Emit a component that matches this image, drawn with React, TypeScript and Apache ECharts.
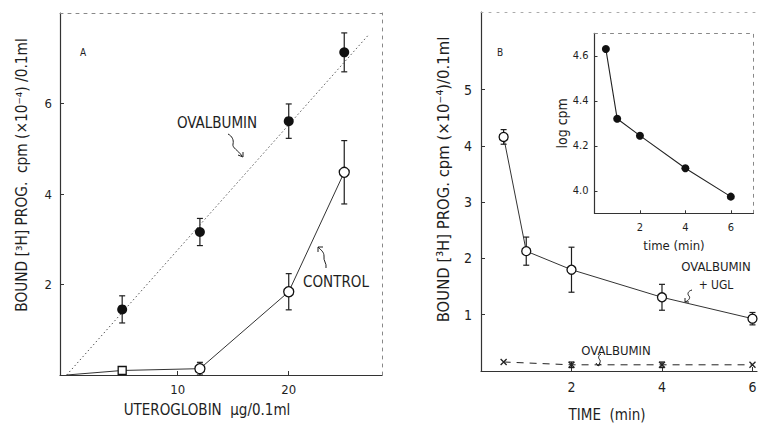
import React, { useEffect, useRef } from "react";
import * as echarts from "echarts";

// ---------- Panel A data ----------
const doseA = [5, 12, 20, 25];
const ovalA = [1.45, 3.16, 5.61, 7.13];
const ovalAErr = [0.3, 0.3, 0.38, 0.43];
const ovalFitX = [0, 27.2];
const ovalFitY = [0, 7.52];
const controlX = [0, 5, 12, 20, 25];
const controlY = [0, 0.1, 0.14, 1.84, 4.48];
const controlErr = [0, 0, 0.14, 0.4, 0.7];
const ticksAX = [10, 20];
const ticksAY = [2, 4, 6];

// ---------- Panel B data ----------
const timeB = [0.5, 1, 2, 4, 6];
const uglB = [4.16, 2.13, 1.8, 1.31, 0.93];
const uglBErr = [0.13, 0.25, 0.4, 0.23, 0.11];
const ovalTimeB = [0.5, 2, 4, 6];
const ovalB = [0.16, 0.11, 0.11, 0.11];
const ovalBErr = [0, 0.05, 0.05, 0];
const ticksBX = [2, 4, 6];
const ticksBY = [1, 2, 3, 4, 5];

// ---------- Inset data ----------
const insetTime = [0.5, 1, 2, 4, 6];
const insetLog = [4.63, 4.32, 4.245, 4.1, 3.974];
const ticksInsetX = [2, 4, 6];
const ticksInsetY = [4.0, 4.2, 4.4, 4.6];

const FONT = "'DejaVu Sans Condensed', 'Liberation Sans Narrow', 'DejaVu Sans', sans-serif";
const INK = "#1e1e1e";

echarts.graphic.registerShape(
  "arrowOvalA",
  echarts.graphic.extendPath("M0,0 C4,2 6,6 5,10 C4,14 10,16 14,22 M10,21 L15,23 L15,18", {})
);
echarts.graphic.registerShape(
  "arrowControl",
  echarts.graphic.extendPath("M8,21 C9,16 5,14 6,9 C6,5 3,3 0,0 M0,0 L5,0 M0,0 L0,5", {})
);
echarts.graphic.registerShape(
  "arrowUgl",
  echarts.graphic.extendPath("M8,0 C4,1 3,4 5,6 C7,8 4,11 1,12 M1,12 L1,8 M1,12 L5,12", {})
);
echarts.graphic.registerShape(
  "arrowOvalB",
  echarts.graphic.extendPath("M5,0 C2,2 2,4 4,6 C5,8 3,10 2,12 M2,12 L0,9 M2,12 L5,10", {})
);

function errData(xs: number[], ys: number[], es: number[]) {
  const out: number[][] = [];
  xs.forEach((x, i) => {
    if (es[i] > 0) out.push([x, ys[i] - es[i], ys[i] + es[i]]);
  });
  return out;
}

function errSeries(xi: number, yi: number, data: number[][], cap = 3) {
  return {
    type: "custom",
    xAxisIndex: xi,
    yAxisIndex: yi,
    z: 1,
    data,
    renderItem: (_p: any, api: any) => {
      const x = api.value(0);
      const lo = api.value(1);
      const hi = api.value(2);
      const a = api.coord([x, hi]);
      const b = api.coord([x, lo]);
      const st = { stroke: INK, lineWidth: 1.2 };
      return {
        type: "group",
        children: [
          { type: "line", shape: { x1: a[0], y1: a[1], x2: b[0], y2: b[1] }, style: st },
          { type: "line", shape: { x1: a[0] - cap, y1: a[1], x2: a[0] + cap, y2: a[1] }, style: st },
          { type: "line", shape: { x1: b[0] - cap, y1: b[1], x2: b[0] + cap, y2: b[1] }, style: st },
        ],
      };
    },
  };
}

const solidLine = { show: true, onZero: false, lineStyle: { color: "#333", width: 1.2 } };
const dashedLine = { show: true, onZero: false, lineStyle: { color: "#888", width: 1, type: [3, 5] } };

function frameAxis(gridIndex: number, position: string, min: number, max: number) {
  return {
    gridIndex,
    type: "value",
    position,
    min,
    max,
    axisLine: dashedLine,
    axisTick: { show: false },
    axisLabel: { show: false },
    splitLine: { show: false },
  };
}

export default function App() {
  const ref = useRef<HTMLDivElement>(null);
  useEffect(() => {
    document.body.style.margin = "0";
    const chart = echarts.init(ref.current!, undefined, { renderer: "svg" });
    const tickLbl = (size: number, vals: number[], extra: any = {}) => ({
      customValues: vals,
      fontSize: size,
      color: INK,
      fontFamily: FONT,
      ...extra,
    });
    const txt = (x: number, y: number, text: string, size: number) => ({
      type: "text",
      x,
      y,
      style: { text, fontSize: size, fill: INK, fontFamily: FONT, align: "center", verticalAlign: "middle" },
    });
    const option: any = {
      animation: false,
      backgroundColor: "#ffffff",
      textStyle: { fontFamily: FONT, color: INK },
      grid: [
        { left: 60, top: 13, width: 322, height: 362 },
        { left: 481, top: 12, width: 276, height: 362 },
        { left: 594.5, top: 33.3, width: 159, height: 180 },
      ],
      xAxis: [
        {
          gridIndex: 0,
          type: "value",
          min: -0.6,
          max: 28.4,
          name: "UTEROGLOBIN  μg/0.1ml",
          nameLocation: "middle",
          nameGap: 27,
          nameTextStyle: { fontSize: 15, color: INK, fontFamily: FONT, padding: [0, 28, 0, 0] },
          axisLine: solidLine,
          axisTick: { show: true, inside: true, length: 4, customValues: ticksAX, lineStyle: { color: "#333" } },
          axisLabel: tickLbl(13, ticksAX, { margin: 8 }),
          splitLine: { show: false },
        },
        frameAxis(0, "top", -0.6, 28.4),
        {
          gridIndex: 1,
          type: "value",
          min: 0,
          max: 6.1,
          name: "TIME  (min)",
          nameLocation: "middle",
          nameGap: 36,
          nameTextStyle: { fontSize: 15, color: INK, fontFamily: FONT, padding: [0, 24, 0, 0] },
          axisLine: solidLine,
          axisTick: { show: true, inside: true, length: 4, customValues: ticksBX, lineStyle: { color: "#333" } },
          axisLabel: tickLbl(14, ticksBX, { margin: 9 }),
          splitLine: { show: false },
        },
        {
          ...frameAxis(1, "top", 0, 6.1),
          axisLine: { show: true, onZero: false, lineStyle: { color: "#aaa", width: 1, type: [2, 6] } },
        },
        {
          gridIndex: 2,
          type: "value",
          min: 0,
          max: 7,
          name: "time (min)",
          nameLocation: "middle",
          nameGap: 26,
          nameTextStyle: { fontSize: 13, color: INK, fontFamily: FONT },
          axisLine: solidLine,
          axisTick: { show: true, inside: true, length: 3, customValues: ticksInsetX, lineStyle: { color: "#333" } },
          axisLabel: tickLbl(11, ticksInsetX, { margin: 9 }),
          splitLine: { show: false },
        },
        {
          ...frameAxis(2, "top", 0, 7),
        },
      ],
      yAxis: [
        {
          gridIndex: 0,
          type: "value",
          min: 0,
          max: 8,
          name: "BOUND [³H] PROG.  cpm (×10⁻⁴) /0.1ml",
          nameLocation: "middle",
          nameGap: 31,
          nameTextStyle: { fontSize: 15.3, color: INK, fontFamily: FONT, padding: [0, 0, 0, 38] },
          axisLine: solidLine,
          axisTick: { show: true, inside: true, length: 4, customValues: ticksAY, lineStyle: { color: "#333" } },
          axisLabel: tickLbl(13, ticksAY, { margin: 8 }),
          splitLine: { show: false },
        },
        frameAxis(0, "right", 0, 8),
        {
          gridIndex: 1,
          type: "value",
          min: 0,
          max: 6.38,
          name: "BOUND [³H] PROG. cpm (×10⁻⁴)/0.1ml",
          nameLocation: "middle",
          nameGap: 29,
          nameTextStyle: { fontSize: 16.5, color: INK, fontFamily: FONT, padding: [0, 0, 0, 24] },
          axisLine: solidLine,
          axisTick: { show: true, inside: true, length: 4, customValues: ticksBY, lineStyle: { color: "#333" } },
          axisLabel: tickLbl(14, ticksBY, { margin: 9 }),
          splitLine: { show: false },
        },
        {
          gridIndex: 2,
          type: "value",
          min: 3.9,
          max: 4.7,
          name: "log cpm",
          nameLocation: "middle",
          nameGap: 24,
          nameTextStyle: { fontSize: 14, color: INK, fontFamily: FONT },
          axisLine: solidLine,
          axisTick: { show: true, inside: true, length: 3, customValues: ticksInsetY, lineStyle: { color: "#333" } },
          axisLabel: tickLbl(11, ticksInsetY, { margin: 6, formatter: (v: number) => v.toFixed(1) }),
          splitLine: { show: false },
        },
        frameAxis(2, "right", 3.9, 4.7),
      ],
      series: [
        {
          type: "line",
          xAxisIndex: 0,
          yAxisIndex: 0,
          data: ovalFitX.map((x, i) => [x, ovalFitY[i]]),
          symbol: "none",
          lineStyle: { color: "#555", width: 1, type: [1.5, 2.5] },
          z: 1,
        },
        errSeries(0, 0, errData(doseA, ovalA, ovalAErr)),
        {
          type: "scatter",
          xAxisIndex: 0,
          yAxisIndex: 0,
          data: doseA.map((x, i) => [x, ovalA[i]]),
          symbol: "circle",
          symbolSize: 10,
          itemStyle: { color: "#111", opacity: 1 },
          z: 3,
        },
        {
          type: "line",
          xAxisIndex: 0,
          yAxisIndex: 0,
          data: controlX.map((x, i) => ({
            value: [x, controlY[i]],
            symbol: i === 0 ? "none" : i === 1 ? "rect" : "circle",
            symbolSize: i === 1 ? 8 : 10,
          })),
          showSymbol: true,
          lineStyle: { color: "#333", width: 1 },
          itemStyle: { color: "#fff", borderColor: "#111", borderWidth: 1.3 },
          z: 3,
        },
        errSeries(0, 0, errData(controlX, controlY, controlErr)),
        {
          type: "line",
          xAxisIndex: 2,
          yAxisIndex: 2,
          data: timeB.map((x, i) => [x, uglB[i]]),
          symbol: "circle",
          symbolSize: 9,
          showSymbol: true,
          lineStyle: { color: "#333", width: 1 },
          itemStyle: { color: "#fff", borderColor: "#111", borderWidth: 1.3 },
          z: 3,
        },
        errSeries(2, 2, errData(timeB, uglB, uglBErr)),
        {
          type: "line",
          xAxisIndex: 2,
          yAxisIndex: 2,
          data: ovalTimeB.map((x, i) => [x, ovalB[i]]),
          symbol: "path://M0,0L10,10M10,0L0,10",
          symbolSize: 6,
          showSymbol: true,
          lineStyle: { color: "#222", width: 1, type: [7, 6] },
          itemStyle: { color: "none", borderColor: "#222", borderWidth: 1.3 },
          z: 3,
        },
        errSeries(2, 2, errData(ovalTimeB, ovalB, ovalBErr), 2.5),
        {
          type: "line",
          xAxisIndex: 4,
          yAxisIndex: 3,
          data: insetTime.map((x, i) => [x, insetLog[i]]),
          symbol: "circle",
          symbolSize: 8,
          showSymbol: true,
          lineStyle: { color: "#222", width: 1.1 },
          itemStyle: { color: "#111" },
          z: 3,
        },
      ],
      graphic: [
        txt(83, 52, "A", 10),
        txt(217, 123, "OVALBUMIN", 15),
        txt(336, 282, "CONTROL", 15),
        txt(500, 52, "B", 10),
        txt(716, 266, "OVALBUMIN", 13),
        txt(716, 285, "+ UGL", 12),
        txt(616, 350, "OVALBUMIN", 13),
        { type: "arrowOvalA", x: 228, y: 134, style: { stroke: INK, fill: "none", lineWidth: 1 } },
        { type: "arrowControl", x: 318, y: 247, style: { stroke: INK, fill: "none", lineWidth: 1 } },
        { type: "arrowUgl", x: 684, y: 290, style: { stroke: INK, fill: "none", lineWidth: 1 } },
        { type: "arrowOvalB", x: 596, y: 354, style: { stroke: INK, fill: "none", lineWidth: 1 } },
      ],
    };
    chart.setOption(option);
    return () => chart.dispose();
  }, []);
  return <div ref={ref} style={{ width: 770, height: 427, position: "absolute", left: 0, top: 0 }} />;
}
